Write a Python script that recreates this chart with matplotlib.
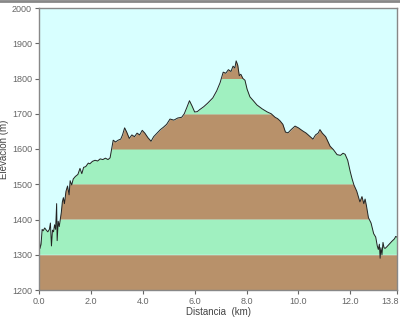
import matplotlib
matplotlib.use("Agg")
import matplotlib.pyplot as plt
import numpy as np
from matplotlib.lines import Line2D

dist = [0.00, 0.04, 0.08, 0.12, 0.16, 0.22, 0.28, 0.34, 0.40, 0.44, 0.48, 0.52, 0.56, 0.60,
        0.64, 0.68, 0.70, 0.74, 0.78, 0.82, 0.86, 0.90, 0.94, 0.98, 1.04, 1.10, 1.16, 1.20,
        1.26, 1.32, 1.40, 1.50, 1.58, 1.65, 1.72, 1.80, 1.90, 1.96, 2.06, 2.16, 2.26, 2.36,
        2.46, 2.56, 2.66, 2.74, 2.80, 2.86, 2.95, 3.05, 3.15, 3.22, 3.30, 3.38, 3.48, 3.58,
        3.68, 3.78, 3.88, 3.98, 4.08, 4.20, 4.32, 4.42, 4.55, 4.68, 4.80, 4.92, 5.05, 5.20,
        5.35, 5.50, 5.60, 5.70, 5.80, 5.90, 6.00, 6.10, 6.20, 6.35, 6.50, 6.70, 6.85, 6.98,
        7.10, 7.20, 7.30, 7.40, 7.48, 7.55, 7.60, 7.66, 7.72, 7.78, 7.86, 7.94, 8.02, 8.13,
        8.25, 8.40, 8.60, 8.80, 8.95, 9.10, 9.20, 9.29, 9.40, 9.50, 9.60, 9.72, 9.87, 10.00,
        10.15, 10.30, 10.45, 10.56, 10.66, 10.76, 10.83, 10.92, 11.05, 11.22, 11.35, 11.49,
        11.62, 11.72, 11.80, 11.90, 12.00, 12.07, 12.14, 12.25, 12.37, 12.45, 12.52, 12.57,
        12.62, 12.70, 12.80, 12.90, 12.98, 13.04, 13.08, 13.12, 13.15, 13.18, 13.22, 13.26,
        13.30, 13.34, 13.40, 13.50, 13.60, 13.70, 13.75, 13.80]
elev = [1365, 1318, 1330, 1372, 1368, 1376, 1370, 1365, 1372, 1390, 1325, 1370, 1365, 1385,
        1372, 1445, 1340, 1395, 1380, 1400, 1420, 1450, 1462, 1445, 1480, 1495, 1470, 1510,
        1498, 1515, 1522, 1528, 1545, 1530, 1548, 1550, 1560, 1558, 1565, 1568, 1566, 1572,
        1570, 1574, 1570, 1575, 1600, 1625, 1620, 1625, 1628, 1640, 1660, 1648, 1630, 1640,
        1635, 1645, 1640, 1653, 1645, 1632, 1622, 1635, 1645, 1655, 1662, 1670, 1685, 1682,
        1688, 1690, 1700, 1718, 1737, 1722, 1705, 1706, 1712, 1720, 1730, 1745, 1765, 1788,
        1818, 1815, 1825, 1820, 1835, 1830, 1850, 1838, 1808, 1812, 1800, 1795, 1770, 1748,
        1738, 1725, 1714, 1705, 1700, 1690, 1686, 1680, 1670, 1648, 1646, 1655, 1665, 1660,
        1652, 1645, 1635, 1628, 1640, 1645, 1655, 1645, 1635, 1608, 1598, 1584, 1582, 1588,
        1585, 1568, 1535, 1515, 1498, 1480, 1450, 1465, 1445, 1458, 1440, 1405, 1390, 1360,
        1350, 1325, 1315, 1330, 1290, 1320, 1300, 1335, 1320, 1318, 1322, 1330, 1338, 1345,
        1352, 1350]

band_edges = [1200, 1300, 1400, 1500, 1600, 1700, 1800, 1900, 2000]
band_colors = ["#b8916a", "#a0f0c0"]
x_ticks = [0.0, 2.0, 4.0, 6.0, 8.0, 10.0, 12.0, 13.8]
y_ticks = [1200, 1300, 1400, 1500, 1600, 1700, 1800, 1900, 2000]

plt.rcParams['font.family'] = ['Liberation Sans', 'DejaVu Sans']

fig = plt.figure(figsize=(4.0, 3.18), dpi=100)
ax = fig.add_axes([39/400, 28/318, 358/400, 282/318])
ax.set_facecolor("#d8ffff")

x = np.array(dist)
y = np.array(elev)
xf = np.linspace(x[0], x[-1], 3000)
yf = np.interp(xf, x, y)
for i in range(len(band_edges) - 1):
    lo, hi = band_edges[i], band_edges[i + 1]
    top = np.clip(yf, lo, hi)
    ax.fill_between(xf, lo, top, where=yf > lo, color=band_colors[i % 2],
                    linewidth=0, interpolate=True)
ax.plot(x, y, color="#222222", lw=0.7)

ax.set_xlim(0, 13.8)
ax.set_ylim(1200, 2000)
ax.set_xticks(x_ticks)
labels = [f"{v:.1f}" for v in x_ticks]
ax.set_xticklabels(labels[:-1] + [""])
ax.annotate(labels[-1], xy=(x_ticks[-1], 1200), xycoords="data",
            xytext=(1.5, -5), textcoords="offset points", ha="right", va="top",
            fontsize=6.5, color="#666666", annotation_clip=False)
ax.set_yticks(y_ticks)
ax.tick_params(labelsize=6.5, colors="#666666", length=3, width=0.8, pad=2)
for s in ax.spines.values():
    s.set_color("#888888")
    s.set_linewidth(1.0)
ax.set_xlabel("Distancia  (km)", fontsize=7, color="#444444", labelpad=1)
ax.set_ylabel("Elevación (m)", fontsize=7, color="#444444", labelpad=2)

fig.add_artist(Line2D([0, 1], [0.997, 0.997], transform=fig.transFigure,
                      color="#888888", lw=2))

fig.savefig("out.png", dpi=100)
